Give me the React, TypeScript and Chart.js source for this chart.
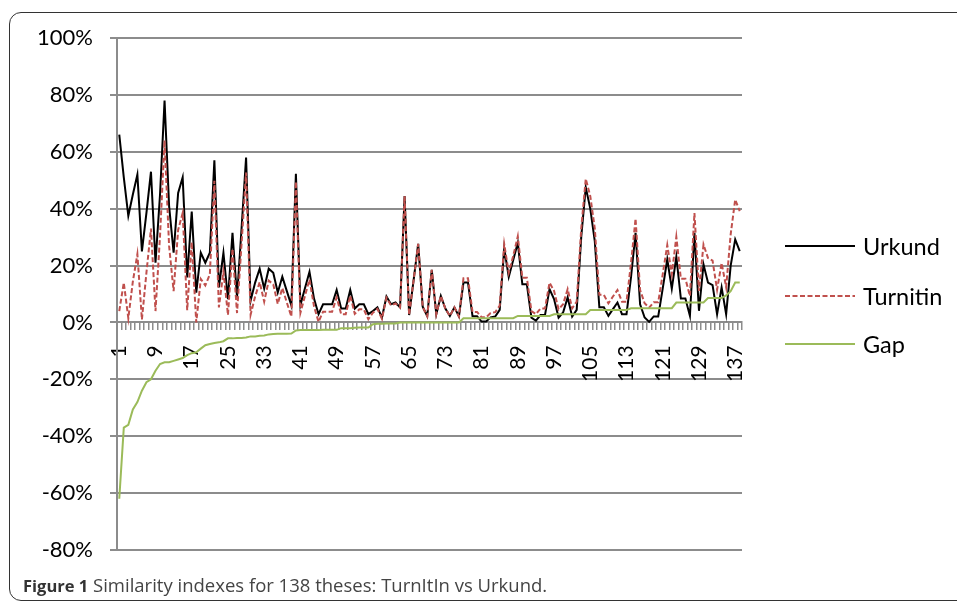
import React, { useEffect, useRef } from 'react';
import { Chart, registerables } from 'chart.js';

Chart.register(...registerables);

const CATEGORIES: string[] = Array.from({ length: 138 }, (_, i) => String(i + 1));
const TICK_LABELS = ['1', '9', '17', '25', '33', '41', '49', '57', '65', '73', '81', '89', '97', '105', '113', '121', '129', '137'];

const URKUND = [
  66, 51, 37.5, 45, 52, 25, 38.5, 53, 21, 45,
  78, 41, 24.5, 45.5, 51, 15.8, 39, 10.5, 24.5, 21,
  24.5, 57, 12.3, 24.5, 8.2, 31.5, 8.8, 33, 58, 7.6,
  14, 18.9, 11.9, 18.9, 17.5, 10.5, 16.1, 11, 6, 52.3,
  6.1, 12, 17.8, 8.4, 2.9, 6.4, 6.4, 6.4, 11.4, 4.9,
  4.9, 11.4, 4.9, 6.4, 6.4, 2.9, 4, 5.3, 1.75, 9.1,
  6.4, 7, 5.3, 44.4, 2.6, 15, 27.6, 5.5, 2.2, 18.5,
  2.9, 9.3, 4.9, 2.3, 5.3, 2.1, 14, 14, 2.2, 2.2,
  0.3, 0.3, 1.8, 2.1, 4.4, 26, 16, 22, 28, 13.4,
  13.4, 1.7, 0.6, 2.6, 2.6, 11.7, 8.2, 1.7, 3.5, 8.8,
  2.1, 4.4, 30, 47.5, 40, 28.5, 5.3, 5.3, 2.3, 4.7,
  7, 2.9, 2.9, 16, 31.5, 6.4, 1.75, 0.2, 2.1, 2.1,
  12, 22.2, 11.9, 23.1, 8.4, 8.4, 2.3, 31.5, 4.1, 20.4,
  14, 13.1, 2.9, 12.3, 2.9, 20, 29.2, 25.1,
];

const TURNITIN = [
  4, 14, 1.5, 14.4, 24, 1, 17.5, 33, 4, 30.4,
  64, 27, 11, 32.5, 38.5, 4.3, 28.2, 0, 15.3, 13,
  16.9, 49.8, 5.3, 17.9, 2.6, 25.9, 3.3, 27.5, 52.7, 2.7,
  9.1, 14.2, 7.3, 14.7, 13.4, 6.5, 12.1, 7, 2.1, 49.5,
  3.4, 9.3, 15.1, 5.7, 0.2, 3.8, 3.8, 3.8, 8.8, 2.9,
  2.9, 9.4, 3, 4.6, 4.6, 1.1, 3.4, 4.8, 1.3, 8.7,
  6, 6.65, 5.3, 44.4, 2.6, 15, 27.6, 5.5, 2.2, 18.5,
  2.9, 9.3, 4.9, 2.3, 5.3, 2.1, 15.5, 15.5, 3.7, 3.7,
  1.8, 1.8, 3.3, 3.6, 5.9, 27.5, 17.5, 23.5, 30.3, 15.7,
  15.7, 4, 2.9, 4.9, 4.9, 14, 11.1, 4.6, 6.4, 11.7,
  5, 7.3, 33, 50.5, 44.4, 33, 9.7, 9.7, 6.7, 9.1,
  11.4, 7.3, 7.3, 21, 36.5, 11.4, 6.75, 5.2, 7.1, 7.1,
  17, 27.2, 16.9, 30.1, 15.4, 15.4, 9.3, 38.5, 11.1, 27.4,
  22.6, 21.7, 11.5, 20.9, 12.4, 31, 43.2, 39.1,
];

const GAP = [
  -62, -37, -36, -30.6, -28, -24, -21, -20, -17, -14.6,
  -14, -14, -13.5, -13, -12.5, -11.5, -10.8, -10.5, -9.2, -8,
  -7.6, -7.2, -7, -6.6, -5.6, -5.6, -5.5, -5.5, -5.3, -4.9,
  -4.9, -4.7, -4.6, -4.2, -4.1, -4, -4, -4, -3.9, -2.8,
  -2.7, -2.7, -2.7, -2.7, -2.7, -2.6, -2.6, -2.6, -2.6, -2,
  -2, -2, -1.9, -1.8, -1.8, -1.8, -0.6, -0.5, -0.45, -0.4,
  -0.4, -0.35, 0, 0, 0, 0, 0, 0, 0, 0,
  0, 0, 0, 0, 0, 0, 1.5, 1.5, 1.5, 1.5,
  1.5, 1.5, 1.5, 1.5, 1.5, 1.5, 1.5, 1.5, 2.3, 2.3,
  2.3, 2.3, 2.3, 2.3, 2.3, 2.3, 2.9, 2.9, 2.9, 2.9,
  2.9, 2.9, 2.9, 2.9, 4.4, 4.4, 4.4, 4.4, 4.4, 4.4,
  4.4, 4.4, 4.4, 5, 5, 5, 5, 5, 5, 5,
  5, 5, 5, 7, 7, 7, 7, 7, 7, 7,
  8.6, 8.6, 8.6, 8.6, 9.5, 11, 14, 14,
];

const LEGEND = [
  { label: 'Urkund', color: '#000000', dash: '' },
  { label: 'Turnitin', color: '#c0504d', dash: '5 2.5' },
  { label: 'Gap', color: '#9bbb59', dash: '' },
];

export default function App() {
  const ref = useRef<HTMLCanvasElement>(null);

  useEffect(() => {
    const canvas = ref.current;
    if (!canvas) return;
    const chart = new Chart(canvas, {
      type: 'line',
      data: {
        labels: CATEGORIES,
        datasets: [
          { label: 'Urkund', data: URKUND, borderColor: '#000000', borderWidth: 2, pointRadius: 0, tension: 0, order: 3 },
          { label: 'Turnitin', data: TURNITIN, borderColor: '#c0504d', borderWidth: 2, borderDash: [5, 2.5], pointRadius: 0, tension: 0, order: 2 },
          { label: 'Gap', data: GAP, borderColor: '#9bbb59', borderWidth: 2, pointRadius: 0, tension: 0, order: 1 },
        ],
      },
      options: {
        responsive: false,
        animation: false,
        devicePixelRatio: 1,
        layout: { padding: { top: 38, bottom: 53, left: 0, right: 215 } },
        plugins: { legend: { display: false }, tooltip: { enabled: false } },
        scales: {
          x: {
            type: 'category',
            position: { y: 0 },
            offset: true,
            grid: { drawOnChartArea: false, drawTicks: true, tickLength: 7, color: '#8c8c8c', lineWidth: 1.5, offset: true },
            border: { display: true, color: '#8c8c8c', width: 2 },
            ticks: {
              autoSkip: false,
              maxRotation: 90,
              minRotation: 90,
              padding: 16,
              color: '#000000',
              font: { family: 'Lato', size: 21 },
              callback: (_v: any, i: number) => (TICK_LABELS.includes(CATEGORIES[i]) ? CATEGORIES[i] : ''),
            },
          },
          y: {
            min: -80,
            max: 100,
            afterFit: (s: any) => { s.width = 117; },
            ticks: { stepSize: 20, padding: 17, color: '#000000', font: { family: 'Lato', size: 22 }, callback: (v: any) => v + '%' },
            grid: { color: '#8c8c8c', lineWidth: 2, tickLength: 7 },
            border: { color: '#8c8c8c', width: 2 },
          },
        },
      },
    } as any);
    return () => chart.destroy();
  }, []);

  return (
    <div style={{ position: 'fixed', left: 0, top: 0, width: 957, height: 603, overflow: 'hidden', background: '#fff' }}>
      <div style={{ position: 'absolute', left: 9, top: 12, width: 1000, height: 589, border: '1.5px solid #333', borderRadius: 12, boxSizing: 'border-box' }} />
      <canvas ref={ref} width={957} height={603} style={{ position: 'absolute', left: 0, top: 0, width: 957, height: 603 }} />
      {LEGEND.map((item, k) => {
        const cy = [246, 296, 344][k];
        return (
          <div key={item.label}>
            <svg style={{ position: 'absolute', left: 785, top: cy - 5, width: 72, height: 10 }} width={72} height={10}>
              <line x1={0} y1={5} x2={70} y2={5} stroke={item.color} strokeWidth={2} strokeDasharray={item.dash || undefined} />
            </svg>
            <div style={{ position: 'absolute', left: 863, top: cy - 16, height: 32, lineHeight: '32px', fontFamily: 'Lato', fontSize: 23.5, color: '#000' }}>{item.label}</div>
          </div>
        );
      })}
      <div style={{ position: 'absolute', left: 23, top: 573, fontFamily: '"Open Sans"', fontSize: 18.5, color: '#444', whiteSpace: 'nowrap', lineHeight: '24px' }}>
        <span style={{ fontWeight: 'bold', color: '#333', fontSize: 16.5 }}>Figure 1</span> Similarity indexes for 138 theses: TurnItIn vs Urkund.
      </div>
    </div>
  );
}
